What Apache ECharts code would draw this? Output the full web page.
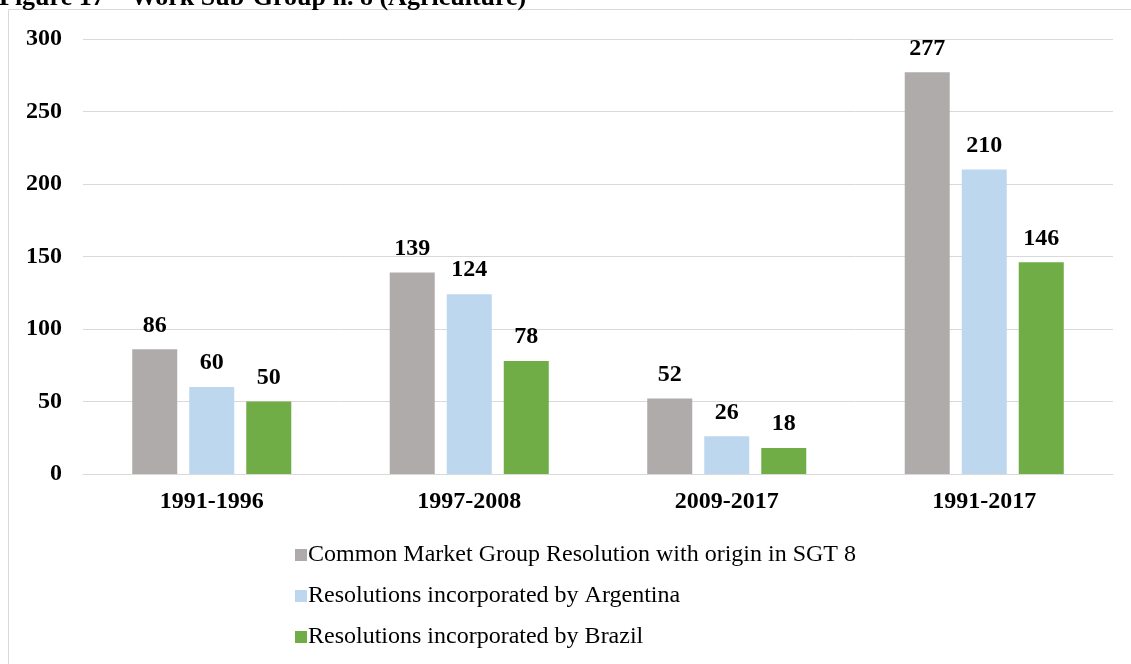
<!DOCTYPE html>
<html><head><meta charset="utf-8">
<script src="https://cdn.jsdelivr.net/npm/echarts@6/dist/echarts.min.js"></script>
<style>html,body{margin:0;padding:0;background:#fff}#c{width:1131px;height:664px}</style>
</head><body><div id="c"></div>
<script>
const categories = ['1991-1996', '1997-2008', '2009-2017', '1991-2017'];
const seriesNames = ['Common Market Group Resolution with origin in SGT 8', 'Resolutions incorporated by Argentina', 'Resolutions incorporated by Brazil'];
const cmgValues = [86, 139, 52, 277];
const argentinaValues = [60, 124, 26, 210];
const brazilValues = [50, 78, 18, 146];
const yTicks = [0, 50, 100, 150, 200, 250, 300];
const colors = ['#AFABAB', '#BDD7EE', '#70AD47'];
const FONT = '"Liberation Serif","Times New Roman",serif';

const chart = echarts.init(document.getElementById('c'));
const valueSets = [cmgValues, argentinaValues, brazilValues];
chart.setOption({
  animation: false,
  textStyle: {fontFamily: FONT},
  graphic: [
    {type: 'rect', shape: {x: 8.5, y: 9.5, width: 1130, height: 700}, style: {fill: 'none', stroke: '#d9d9d9', lineWidth: 1}, z: -1},
    {type: 'text', left: -1, top: -15, style: {text: 'Figure 17 – Work Sub-Group n. 8 (Agriculture)', font: 'bold 26px ' + FONT, fill: '#000'}}
  ],
  grid: {left: 83, right: 18, top: 39, height: 435, containLabel: false},
  legend: {
    orient: 'vertical', left: 290, top: 538, itemGap: 17, itemWidth: 12, itemHeight: 12,
    icon: 'rect', textStyle: {fontFamily: FONT, fontSize: 24, color: '#000', padding: [0, 0, 0, -4]},
    data: seriesNames
  },
  xAxis: {
    type: 'category', data: categories,
    axisLine: {lineStyle: {color: '#d9d9d9'}}, axisTick: {show: false},
    axisLabel: {fontFamily: FONT, fontWeight: 'bold', fontSize: 24, color: '#000', margin: 16}
  },
  yAxis: {
    type: 'value', min: 0, max: 300, interval: 50,
    axisLine: {show: false}, axisTick: {show: false},
    splitLine: {lineStyle: {color: '#d9d9d9'}},
    axisLabel: {fontFamily: FONT, fontWeight: 'bold', fontSize: 24, color: '#000', margin: 21}
  },
  series: seriesNames.map((n, i) => ({
    name: n, type: 'bar', data: valueSets[i], barWidth: 45, barGap: '26.7%',
    itemStyle: {color: colors[i]},
    label: {show: true, position: 'top', distance: 12, fontFamily: FONT, fontWeight: 'bold', fontSize: 24, color: '#000'}
  }))
});
</script></body></html>
